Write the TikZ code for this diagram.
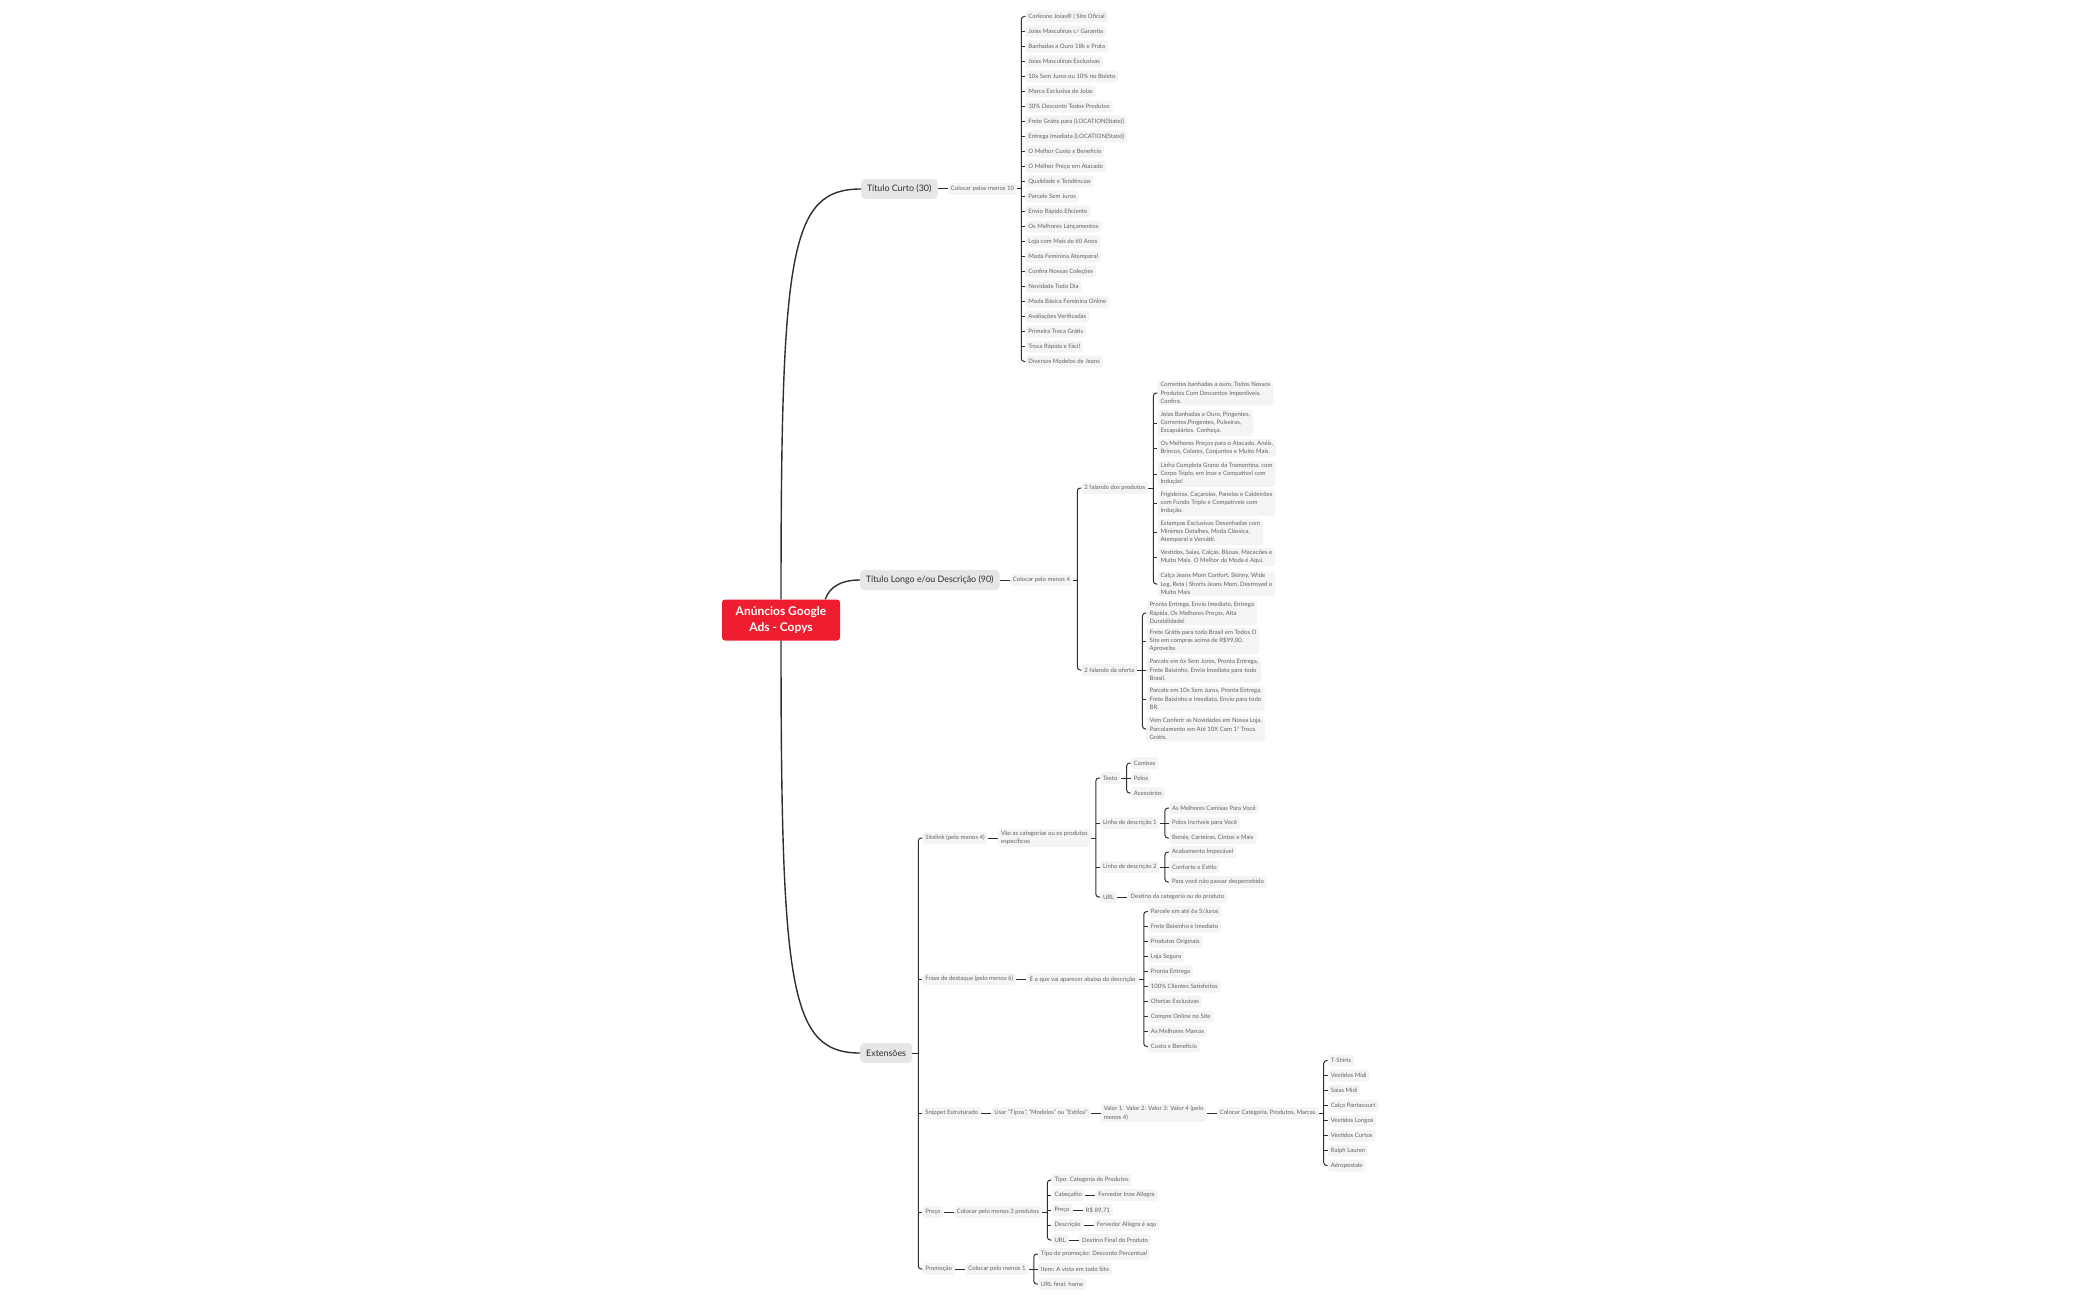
\documentclass[tikz,border=0pt]{standalone}
\usepackage{fontspec}
\setmainfont{Lato}
\usepackage{tikz}
\usetikzlibrary{positioning,calc}
\definecolor{adred}{HTML}{EE1D2F}
\definecolor{ink}{HTML}{2E2E2E}
\definecolor{topicgray}{HTML}{E6E6E6}
\definecolor{leafgray}{HTML}{F4F4F4}
\definecolor{leaftext}{HTML}{626262}

\begin{document}
\begin{tikzpicture}[x=1pt,y=-1pt,node distance=10pt,root/.style={fill=adred,text=white,rounded corners=3pt,minimum width=118pt,minimum height=41pt,align=center,font=\fontsize{12}{16}\selectfont\bfseries},topic/.style={fill=topicgray,text=ink,rounded corners=4pt,minimum height=20pt,inner xsep=6pt,anchor=west,font=\fontsize{8.9}{10}\selectfont},leaf/.style={fill=leafgray,text=leaftext,rounded corners=3pt,minimum height=12pt,inner xsep=3pt,inner ysep=2pt,anchor=west,align=left,font=\fontsize{6}{8.2}\selectfont},link/.style={draw=ink,line width=1pt,rounded corners=3pt},trunk/.style={draw=ink,line width=1.4pt}]
\useasboundingbox (0,0) rectangle (2100,1300);
\node[root] (root) at (781,620) {Anúncios Google\\Ads - Copys};
\node[topic] (curto) at (861,189) {Título Curto (30)};
\node[topic] (longo) at (860,580) {Título Longo e/ou Descrição (90)};
\node[topic] (ext) at (860,1053) {Extensões};
\draw[trunk] (root.north) .. controls (781,250) and (790,189) .. (curto.west);
\draw[trunk] ([xshift=-15pt]root.north east) .. controls (830,586) and (842,580) .. (longo.west);
\draw[trunk] (root.south) .. controls (781,990) and (790,1053) .. (ext.west);
% titulo curto
\node[leaf,right=of curto] (curto1) {Colocar pelos menos 10};
\coordinate[right=4pt of curto1] (bC);
\draw[link] (curto) -- (curto1) -- (bC);
\foreach \txt [count=\i] in {Corleone Joias® | Site Oficial,Joias Masculinas c/ Garantia,Banhadas a Ouro 18k e Prata,Joias Masculinas Exclusivas,10x Sem Juros ou 10\% no Boleto,Marca Exclusiva de Joias,30\% Desconto Todos Produtos,Frete Grátis para \{LOCATION(State)\},Entrega Imediata \{LOCATION(State)\},O Melhor Custo x Benefício,O Melhor Preço em Atacado,Qualidade e Tendências,Parcele Sem Juros,Envio Rápido Eficiente,Os Melhores Lançamentos,Loja com Mais de 60 Anos,Moda Feminina Atemporal,Confira Nossas Coleções,Novidade Todo Dia,Moda Básica Feminina Online,Avaliações Verificadas,Primeira Troca Grátis,Troca Rápida e Fácil,Diversos Modelos de Jeans}
  \path (bC) ++(4,{15*(\i-12.5)}) node[leaf] (curtoA\i) {\txt};
\draw[link] (curtoA1.west) -| (bC) |- (curtoA24.west);
\foreach \i in {2,...,23} \draw[link] (bC |- curtoA\i.west) -- (curtoA\i.west);
% titulo longo
\node[leaf,right=of longo] (longo1) {Colocar pelo menos 4};
\coordinate[right=4pt of longo1] (bL);
\draw[link] (longo) -- (longo1) -- (bL);
\path (bL) ++(4,-92) node[leaf] (prod) {2 falando dos produtos};
\path (bL) ++(4,90) node[leaf] (oferta) {2 falando da oferta};
\draw[link] (prod.west) -| (bL) |- (oferta.west);
\coordinate[right=5pt of prod] (bP);
\draw[link] (prod) -- (bP);
\foreach \txt/\dy [count=\i] in {{Correntes banhadas a ouro, Todos Nossos\\Produtos Com Descontos Imperdíveis.\\Confira.}/-95,{Joias Banhadas a Ouro, Pingentes,\\Correntes,Pingentes, Pulseiras,\\Escapulários. Conheça.}/-65,{Os Melhores Preços para o Atacado, Anéis,\\Brincos, Colares, Conjuntos e Muito Mais.}/-40,{Linha Completa Grano da Tramontina, com\\Corpo Triplo, em Inox e Compatível com\\Indução!}/-14,{Frigideiras, Caçarolas, Panelas e Caldeirões\\com Fundo Triplo e Compatíveis com\\Indução.}/15,{Estampas Exclusivas Desenhadas com\\Mínimos Detalhes, Moda Clássica,\\Atemporal e Versátil.}/44,{Vestidos, Saias, Calças, Blusas, Macacões e\\Muito Mais. O Melhor da Moda é Aqui.}/69,{Calça Jeans Mom Confort, Skinny, Wide\\Leg, Reta | Shorts Jeans Mom, Destroyed e\\Muito Mais}/96}
  \path (bP) ++(4,\dy) node[leaf] (prodA\i) {\txt};
\draw[link] (prodA1.west) -| (bP) |- (prodA8.west);
\foreach \i in {2,...,7} \draw[link] (bP |- prodA\i.west) -- (prodA\i.west);
\coordinate[right=5pt of oferta] (bO);
\draw[link] (oferta) -- (bO);
\foreach \txt/\dy [count=\i] in {{Pronta Entrega, Envio Imediato, Entrega\\Rápida, Os Melhores Preços, Alta\\Durabilidade!}/-57,{Frete Grátis para todo Brasil em Todos O\\Site em compras acima de R\$99,00.\\Aproveite.}/-29,{Parcele em 6x Sem Juros, Pronta Entrega,\\Frete Baixinho, Envio Imediato para todo\\Brasil.}/0,{Parcele em 10x Sem Juros, Pronta Entrega,\\Frete Baixinho e Imediato, Envio para todo\\BR.}/29,{Vem Conferir as Novidades em Nossa Loja.\\Parcelamento em Até 10X Com 1ª Troca\\Grátis.}/59}
  \path (bO) ++(4,\dy) node[leaf] (ofertaA\i) {\txt};
\draw[link] (ofertaA1.west) -| (bO) |- (ofertaA5.west);
\foreach \i in {2,...,4} \draw[link] (bO |- ofertaA\i.west) -- (ofertaA\i.west);
% extensoes
\coordinate[right=6pt of ext] (bE);
\draw[link] (ext) -- (bE);
\path (bE) ++(4,-215) node[leaf] (site) {Sitelink (pelo menos 4)};
\path (bE) ++(4,-74) node[leaf] (frase) {Frase de destaque (pelo menos 6)};
\path (bE) ++(4,60) node[leaf] (snip) {Snippet Estruturado};
\path (bE) ++(4,159) node[leaf] (preco) {Preço};
\path (bE) ++(4,216) node[leaf] (promo) {Promoção};
\draw[link] (site.west) -| (bE) |- (promo.west);
\foreach \n in {frase,snip,preco} \draw[link] (bE |- \n.west) -- (\n.west);
\node[leaf,right=of site] (site1) {Vão as categorias ou os produtos\\específicos};
\coordinate[right=5pt of site1] (bS);
\draw[link] (site) -- (site1) -- (bS);
\path (bS) ++(4,-60) node[leaf] (texto) {Texto};
\path (bS) ++(4,-15) node[leaf] (linha1) {Linha de descrição 1};
\path (bS) ++(4,29) node[leaf] (linha2) {Linha de descrição 2};
\path (bS) ++(4,59) node[leaf] (url) {URL};
\draw[link] (texto.west) -| (bS) |- (url.west);
\foreach \n in {linha1,linha2} \draw[link] (bS |- \n.west) -- (\n.west);
\coordinate[right=6pt of texto] (bT);
\draw[link] (texto) -- (bT);
\foreach \txt [count=\i] in {Camisas,Polos,Acessórios}
  \path (bT) ++(4,{15*(\i-2)}) node[leaf] (textoA\i) {\txt};
\draw[link] (textoA1.west) -| (bT) |- (textoA3.west);
\draw[link] (bT) -- (textoA2.west);
\coordinate[right=5pt of linha1] (bD);
\draw[link] (linha1) -- (bD);
\foreach \txt [count=\i] in {As Melhores Camisas Para Você,Polos Incríveis para Você,{Bonés, Carteiras, Cintos e Mais}}
  \path (bD) ++(4,{15*(\i-2)}) node[leaf] (linhaA\i) {\txt};
\draw[link] (linhaA1.west) -| (bD) |- (linhaA3.west);
\draw[link] (bD) -- (linhaA2.west);
\coordinate[right=5pt of linha2] (bG);
\draw[link] (linha2) -- (bG);
\foreach \txt [count=\i] in {Acabamento Impecável,Conforto e Estilo,Para você não passar despercebido}
  \path (bG) ++(4,{15*(\i-2)}) node[leaf] (linhaB\i) {\txt};
\draw[link] (linhaB1.west) -| (bG) |- (linhaB3.west);
\draw[link] (bG) -- (linhaB2.west);
\node[leaf,right=of url] (url1) {Destino da categoria ou do produto};
\draw[link] (url) -- (url1);
\node[leaf,right=of frase] (frase1) {É o que vai aparecer abaixo da descrição};
\coordinate[right=5pt of frase1] (bF);
\draw[link] (frase) -- (frase1) -- (bF);
\foreach \txt [count=\i] in {Parcele em até 6x S/Juros,Frete Baixinho e Imediato,Produtos Originais,Loja Segura,Pronta Entrega,100\% Clientes Satisfeitos,Ofertas Exclusivas,Compre Online no Site,As Melhores Marcas,Custo x Benefício}
  \path (bF) ++(4,{15*(\i-5.5)}) node[leaf] (fraseA\i) {\txt};
\draw[link] (fraseA1.west) -| (bF) |- (fraseA10.west);
\foreach \i in {2,...,9} \draw[link] (bF |- fraseA\i.west) -- (fraseA\i.west);
\node[leaf,right=of snip] (snip1) {Usar "Tipos", "Modelos" ou "Estilos"};
\node[leaf,right=of snip1] (snip2) {Valor 1: Valor 2: Valor 3: Valor 4 (pelo\\menos 4)};
\node[leaf,right=of snip2] (snip3) {Colocar Categoria, Produtos, Marcas};
\coordinate[right=5pt of snip3] (bN);
\draw[link] (snip) -- (snip1) -- (snip2) -- (snip3) -- (bN);
\foreach \txt [count=\i] in {T-Shirts,Vestidos Midi,Saias Midi,Calça Pantacourt,Vestidos Longos,Vestidos Curtos,Ralph Lauren,Aéropostale}
  \path (bN) ++(4,{15*(\i-4.5)}) node[leaf] (snipA\i) {\txt};
\draw[link] (snipA1.west) -| (bN) |- (snipA8.west);
\foreach \i in {2,...,7} \draw[link] (bN |- snipA\i.west) -- (snipA\i.west);
\node[leaf,right=of preco] (preco1) {Colocar pelo menos 3 produtos};
\coordinate[right=5pt of preco1] (bR);
\draw[link] (preco) -- (preco1) -- (bR);
\foreach \txt [count=\i] in {Tipo: Categoria de Produtos,Cabeçalho,Preço,Descrição,URL}
  \path (bR) ++(4,{15*(\i-3)-2}) node[leaf] (precoA\i) {\txt};
\draw[link] (precoA1.west) -| (bR) |- (precoA5.west);
\foreach \i in {2,...,4} \draw[link] (bR |- precoA\i.west) -- (precoA\i.west);
\node[leaf,right=of precoA2] (precoB2) {Fervedor Inox Allegra};
\node[leaf,right=of precoA3] (precoB3) {R\$ 89,71};
\node[leaf,right=of precoA4] (precoB4) {Fervedor Allegra é aqu};
\node[leaf,right=of precoA5] (precoB5) {Destino Final do Produto};
\foreach \i in {2,...,5} \draw[link] (precoA\i) -- (precoB\i);
\node[leaf,right=of promo] (promo1) {Colocar pelo menos 1};
\coordinate[right=5pt of promo1] (bM);
\draw[link] (promo) -- (promo1) -- (bM);
\foreach \txt [count=\i] in {Tipo de promoção: Desconto Percentual,Item: A vista em todo Site,URL final: home}
  \path (bM) ++(4,{15*(\i-2)}) node[leaf] (promoA\i) {\txt};
\draw[link] (promoA1.west) -| (bM) |- (promoA3.west);
\draw[link] (bM) -- (promoA2.west);
\end{tikzpicture}
\end{document}
